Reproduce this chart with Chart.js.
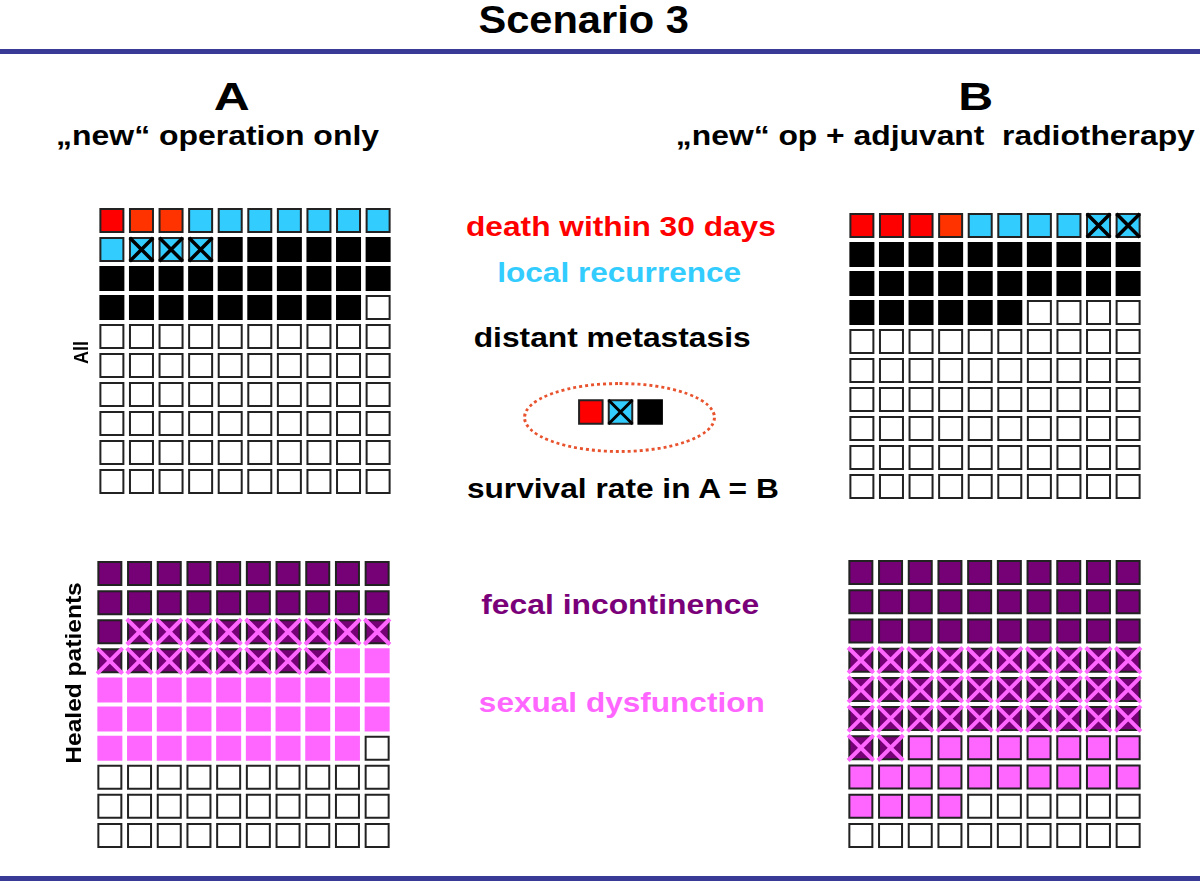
<!DOCTYPE html>
<html>
<head>
<meta charset="utf-8">
<script src="https://cdn.jsdelivr.net/npm/chart.js@4.4.1/dist/chart.umd.min.js"></script>
<style>
  html, body { margin: 0; padding: 0; background: #fff; }
  body { width: 1200px; height: 881px; position: relative; overflow: hidden; font-family: "Liberation Sans", Arial, Helvetica, sans-serif; }
  canvas { position: absolute; }
  .rule { position: absolute; left: 0; width: 1200px; background: #393a95; }
  .ellipse { position: absolute; border: 3px dotted #e8532e; border-radius: 50%; box-sizing: border-box; }
</style>
</head>
<body>
<div class="rule" style="top:49px;height:5px"></div>
<div class="rule" style="top:876px;height:5px"></div>
<div class="ellipse" style="left:523px;top:382px;width:193px;height:71px"></div>

<script>
// ---------------- DATA ----------------
// 10 x 10 waffle: each cell = 1 patient, filled row by row
const allCategories = ['death within 30 days', 'local recurrence', 'local recurrence + distant metastasis', 'distant metastasis', 'no event'];
const allA = [3, 8, 3, 25, 61];      // A: "new" operation only
const allB = [4, 4, 2, 26, 64];      // B: "new" op + adjuvant radiotherapy

const healedCategories = ['fecal incontinence', 'fecal incontinence + sexual dysfunction', 'sexual dysfunction', 'no dysfunction'];
const healedA = [21, 17, 31, 31];
const healedB = [30, 32, 22, 16];

const legendCategories = ['death within 30 days', 'local recurrence', 'distant metastasis'];
const legendCounts = [1, 1, 1];

const titleText = 'Scenario 3';
const groupLabels = ['A', 'B'];
const groupSubtitles = ['\u201Enew\u201C operation only', '\u201Enew\u201C op + adjuvant  radiotherapy'];
const rowLabels = ['All', 'Healed patients'];
const legendTexts = ['death within 30 days', 'local recurrence', 'distant metastasis', 'survival rate in A = B', 'fecal incontinence', 'sexual dysfunction'];

// ---------------- STYLE ----------------
const RED = '#ff0000', ORANGE = '#ff3300', BLUE = '#33ccff', BLACK = '#000000';
const PURPLE = '#760076', PINK = '#ff66ff', WHITE = '#ffffff', EDGE = '#222222';

const allStyle = {
  fill:   [RED, BLUE, BLUE, BLACK, WHITE],
  edge:   [EDGE, EDGE, EDGE, BLACK, EDGE],
  cross:  [false, false, true, false, false]
};
const healedStyle = {
  fill:   [PURPLE, PURPLE, PINK, WHITE],
  edge:   [EDGE, EDGE, EDGE, EDGE],
  cross:  [false, true, false, false]
};
// shade of the first-row death cells as in the original slide
const deathShadeA = [RED, ORANGE, ORANGE];
const deathShadeB = [RED, RED, RED, ORANGE];

function buildCells(counts, style, deathShade, edgeOverride) {
  const cells = [], fills = [], edges = [], crosses = [];
  let k = 0;
  counts.forEach((n, ci) => {
    for (let j = 0; j < n; j++) {
      const p = { x: (k % 10) + 1, y: Math.floor(k / 10) + 1 };
      cells.push(p);
      let f = style.fill[ci];
      if (ci === 0 && deathShade) f = deathShade[j] || f;
      fills.push(f);
      edges.push(edgeOverride && edgeOverride[ci] ? edgeOverride[ci] : style.edge[ci]);
      if (style.cross[ci]) crosses.push({ x: p.x, y: p.y });
      k++;
    }
  });
  return { cells, fills, edges, crosses };
}

function makeCanvas(left, top, w, h) {
  const c = document.createElement('canvas');
  c.width = w; c.height = h;
  c.style.left = left + 'px'; c.style.top = top + 'px';
  c.style.width = w + 'px'; c.style.height = h + 'px';
  document.body.appendChild(c);
  return c;
}

// Create chart so that its chart area (the grid of cells) lands exactly on `box`
function placeChart(box, configFactory) {
  let c = makeCanvas(box.left, box.top, box.w, box.h);
  let ch = new Chart(c.getContext('2d'), configFactory());
  const a = ch.chartArea;
  const pl = a.left, pt = a.top, pr = box.w - a.right, pb = box.h - a.bottom;
  ch.destroy();
  c.remove();
  c = makeCanvas(Math.round(box.left - pl), Math.round(box.top - pt), Math.round(box.w + pl + pr), Math.round(box.h + pt + pb));
  return new Chart(c.getContext('2d'), configFactory());
}

function waffle(box, built, crossColor, crossWidth, crossRadius, cols, rows, side) {
  const r = side / Math.SQRT2;
  return placeChart(box, () => ({
    type: 'scatter',
    data: {
      datasets: [
        {
          label: 'cross',
          data: built.crosses.map(p => ({ x: p.x, y: p.y })),
          pointStyle: 'crossRot',
          pointRadius: crossRadius,
          pointBorderColor: crossColor,
          pointBackgroundColor: 'rgba(0,0,0,0)',
          pointBorderWidth: crossWidth,
          clip: false
        },
        {
          label: 'cells',
          data: built.cells.map(p => ({ x: p.x, y: p.y })),
          pointStyle: 'rect',
          pointRadius: r,
          pointBackgroundColor: built.fills.slice(),
          pointBorderColor: built.edges.slice(),
          pointBorderWidth: 2,
          clip: false
        }
      ]
    },
    options: {
      responsive: false,
      maintainAspectRatio: false,
      animation: false,
      events: [],
      devicePixelRatio: 1,
      layout: { padding: 0 },
      plugins: { legend: { display: false }, tooltip: { enabled: false } },
      scales: {
        x: { type: 'linear', min: 0.5, max: cols + 0.5, display: false },
        y: { type: 'linear', min: 0.5, max: rows + 0.5, reverse: true, display: false }
      }
    }
  }));
}

// panels
waffle({ left: 97, top: 206, w: 296, h: 290 }, buildCells(allA, allStyle, deathShadeA), BLACK, 3.5, 16.6, 10, 10, 23);
waffle({ left: 847, top: 211, w: 296, h: 290 }, buildCells(allB, allStyle, deathShadeB), BLACK, 3.5, 16.6, 10, 10, 23);
waffle({ left: 95, top: 559, w: 297, h: 291 }, buildCells(healedA, healedStyle, null, [null, null, PINK, null]), PINK, 4, 18, 10, 10, 23);
waffle({ left: 846, top: 558, w: 297, h: 292 }, buildCells(healedB, healedStyle, null), PINK, 4, 18, 10, 10, 23);

// legend swatches inside the dotted ellipse
(function () {
  const fills = [RED, BLUE, BLACK];
  const built = { cells: [], fills: [], edges: [], crosses: [] };
  legendCounts.forEach((n, i) => {
    const p = { x: i + 1, y: 1 };
    built.cells.push(p); built.fills.push(fills[i]); built.edges.push(i === 2 ? BLACK : EDGE);
    if (legendCategories[i] === 'local recurrence') built.crosses.push({ x: p.x, y: p.y });
  });
  waffle({ left: 576, top: 402, w: 89, h: 30 }, built, BLACK, 3, 17, 3, 1, 23.5);
})();

// ---------------- TEXT ----------------
function label(text, cx, cy, size, len, color, rotate) {
  const d = document.createElement('div');
  d.textContent = text;
  d.style.cssText = 'position:absolute;white-space:pre;font-weight:bold;font-family:"Liberation Sans",Arial,Helvetica,sans-serif;' +
    'font-size:' + size + 'px;line-height:' + size + 'px;color:' + color + ';transform-origin:50% 50%;';
  document.body.appendChild(d);
  const w = d.getBoundingClientRect().width;
  const ink = w - size * 0.06;
  const sx = len / ink;
  d.style.left = (cx - w / 2) + 'px';
  d.style.top = (cy - size / 2) + 'px';
  d.style.transform = rotate ? 'rotate(-90deg) scaleX(' + sx + ')' : 'scaleX(' + sx + ')';
}

label(titleText, 584, 19, 39, 208, '#000');
label(groupLabels[0], 231.5, 97, 38, 33, '#000');
label(groupLabels[1], 976, 97, 38, 32, '#000');
label(groupSubtitles[0], 217.5, 136, 28, 321, '#000');
label(groupSubtitles[1], 935.5, 136, 28, 517, '#000');

label(legendTexts[0], 621, 227, 28, 308, RED);
label(legendTexts[1], 619, 272.5, 28, 242, BLUE);
label(legendTexts[2], 612.5, 338, 28, 275, '#000');
label(legendTexts[3], 623, 489, 28, 310, '#000');
label(legendTexts[4], 620, 604.5, 28, 276, '#7a007a');
label(legendTexts[5], 622, 702.5, 28, 284, PINK);

label(rowLabels[0], 80, 352.5, 21, 22, '#000', true);
label(rowLabels[1], 74.5, 673, 22, 180, '#000', true);
</script>
</body>
</html>
